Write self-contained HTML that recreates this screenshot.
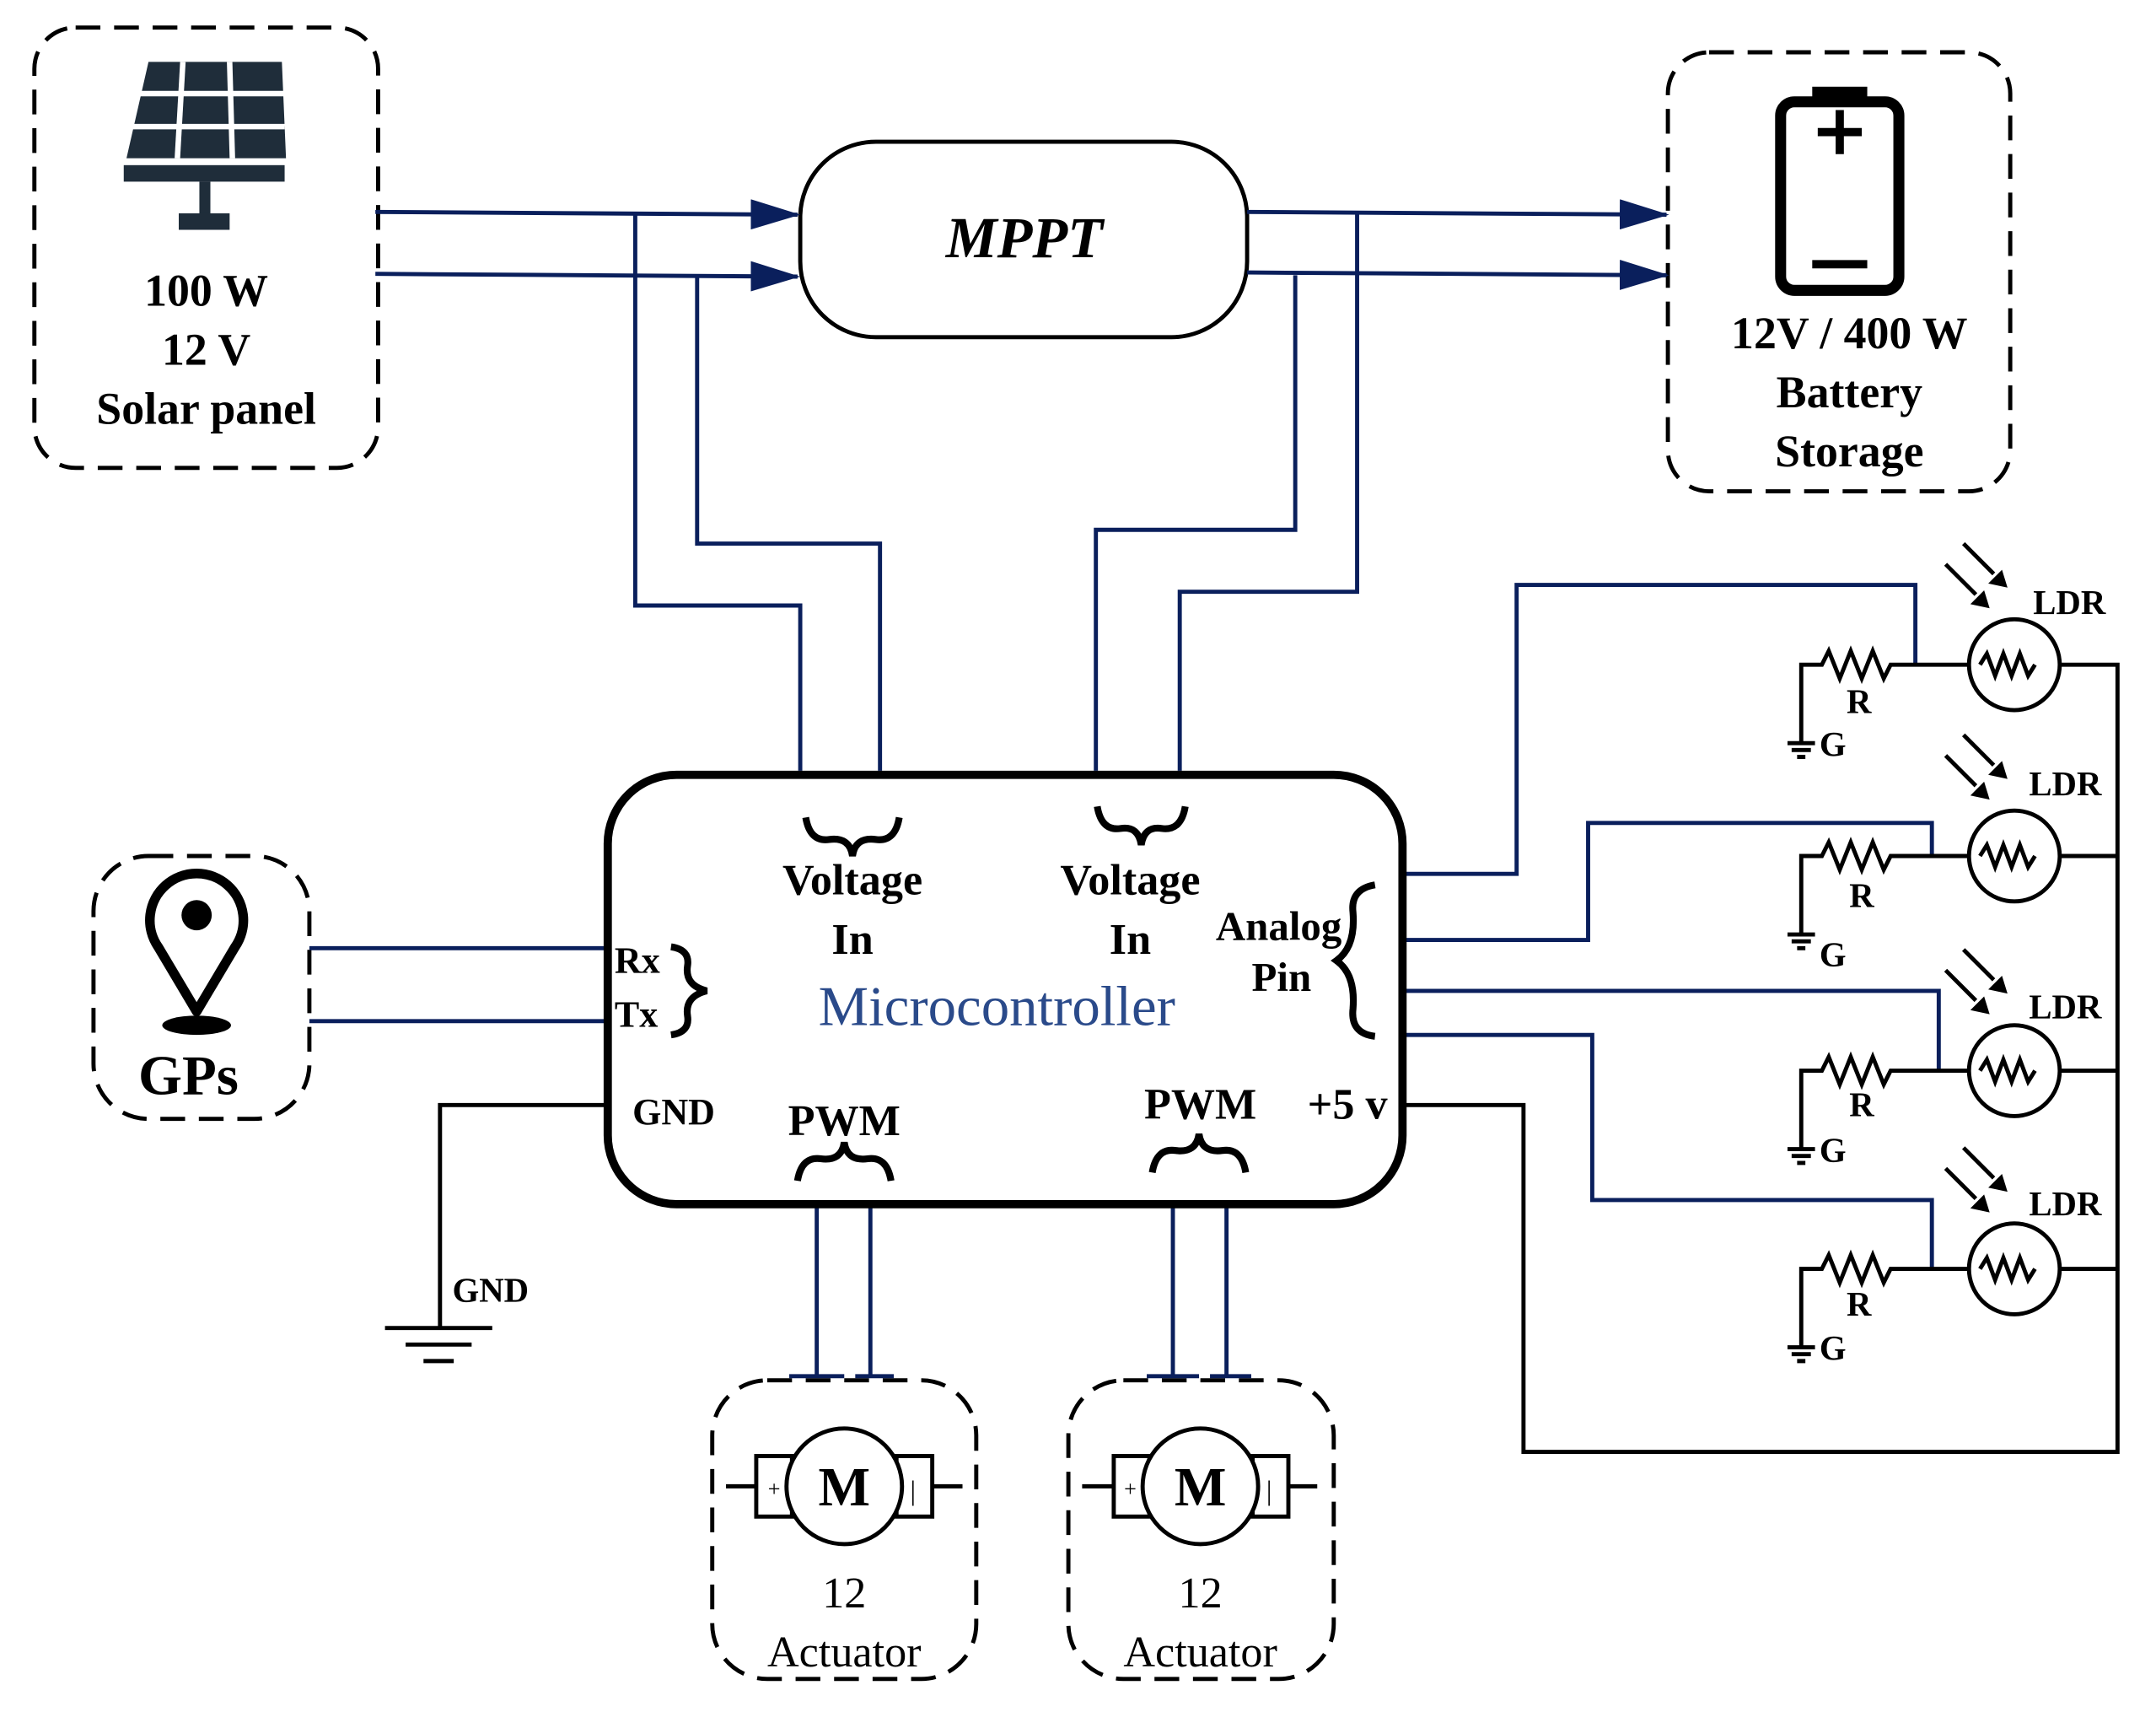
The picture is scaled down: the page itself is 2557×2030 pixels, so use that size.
<!DOCTYPE html>
<html><head><meta charset="utf-8"><style>html,body{margin:0;padding:0;background:#fff}svg{display:block}</style></head><body>
<svg width="2557" height="2030" viewBox="0 0 1568 1244" preserveAspectRatio="none" xmlns="http://www.w3.org/2000/svg" font-family="Liberation Serif, serif">
<defs>
<marker id="ar" markerWidth="36" markerHeight="22" refX="34" refY="11" orient="auto" markerUnits="userSpaceOnUse" viewBox="0 0 36 22"><path d="M0,0 L36,11 L0,22z" fill="#0a1f5c"/></marker>
</defs>
<g fill="none" stroke="#000" stroke-width="3" stroke-dasharray="18,10">
<rect x="25" y="20" width="250" height="320" rx="30"/>
<rect x="1213" y="38" width="249" height="319" rx="30"/>
<rect x="68" y="622" width="157" height="191" rx="40"/>
<rect x="518" y="1003" width="192" height="217" rx="40"/>
<rect x="777" y="1003" width="193" height="217" rx="40"/>
</g>
<g fill="#1f2d3a">
<polygon points="108,45 205,45 208,115 92,115"/>
<rect x="90" y="120" width="117" height="12"/>
<rect x="145" y="132" width="8" height="25"/>
<rect x="130" y="155" width="37" height="12"/>
</g>
<g stroke="#fff" stroke-width="4"><line x1="97" y1="68" x2="207" y2="68"/><line x1="94" y1="92" x2="207" y2="92"/><line x1="133" y1="45" x2="129" y2="115"/><line x1="167" y1="45" x2="169" y2="115"/></g>
<g font-weight="bold" font-size="33" text-anchor="middle" fill="#000">
<text x="150" y="222">100 W</text><text x="150" y="265">12 V</text><text x="150" y="308">Solar panel</text>
<text x="1345" y="253">12V / 400 W</text><text x="1345" y="296">Battery</text><text x="1345" y="339">Storage</text>
</g>
<rect x="1295" y="74" width="86" height="137" rx="10" fill="none" stroke="#000" stroke-width="8"/>
<rect x="1318" y="63" width="40" height="12" fill="#000"/>
<path d="M1338 80v32M1322 96h32M1318 192h40" stroke="#000" stroke-width="6"/>
<rect x="582" y="103" width="325" height="142" rx="55" fill="none" stroke="#000" stroke-width="3"/>
<text x="745" y="187" font-size="42" font-weight="bold" font-style="italic" text-anchor="middle">MPPT</text>
<g fill="none" stroke="#0a1f5c" stroke-width="3">
<path d="M273 154 L580 156" marker-end="url(#ar)"/>
<path d="M273 199 L580 201" marker-end="url(#ar)"/>
<path d="M907 154 L1212 156" marker-end="url(#ar)"/>
<path d="M907 198 L1212 200" marker-end="url(#ar)"/>
<path d="M462 155V440H582V560"/>
<path d="M507 200V395H640V560"/>
<path d="M987 155V430H858V560"/>
<path d="M942 200V385H797V560"/>
<path d="M225 689H442M225 742H442"/>
<path d="M1020 635H1103V425H1393V483"/>
<path d="M1020 683H1155V598H1405V622"/>
<path d="M1020 720H1410V778"/>
<path d="M1020 752H1158V872H1405V922"/>
<path d="M594 875V1000M633 875V1000M853 875V1000M892 875V1000"/>
</g>
<g stroke="#000" stroke-width="3" fill="none">
<path d="M574 1000H614M622 1000H650M834 1000H872M880 1000H910" stroke="#0a1f5c"/>
<path d="M442 803H320V965M280 965H358M295 977H343M308 989H330"/>
<path d="M1020 803H1108V1055H1540V483H1498"/>
<path d="M1498 622H1540M1498 778H1540M1498 922H1540"/>
</g>
<rect x="442" y="563" width="578" height="312" rx="50" fill="none" stroke="#000" stroke-width="6"/>
<g font-weight="bold" font-size="32" text-anchor="middle">
<text x="620" y="650">Voltage</text><text x="620" y="693">In</text>
<text x="822" y="650">Voltage</text><text x="822" y="693">In</text>
<text x="930" y="683" font-size="30">Analog</text><text x="932" y="720" font-size="30">Pin</text>
<text x="614" y="825">PWM</text><text x="873" y="813">PWM</text>
<text x="980" y="813">+5 v</text>
</g>
<g font-weight="bold" font-size="27">
<text x="447" y="707">Rx</text><text x="447" y="746">Tx</text><text x="460" y="817">GND</text><text x="329" y="946" font-size="25">GND</text>
</g>
<text x="725" y="745" font-size="41" fill="#2a4a8a" text-anchor="middle">Microcontroller</text>
<g fill="none" stroke="#000" stroke-width="5">
<path d="M586 594q3 18 17 16q15-2 17 12q2-14 17-12q14 2 17-16"/>
<path d="M798 586q3 18 17 16q13-2 15 12q2-14 15-12q14 2 17-16"/>
<path d="M580 858q3-18 17-16q15 2 17-12q2 14 17 12q14-2 17 16"/>
<path d="M838 852q3-18 17-16q15 2 17-12q2 14 17 12q14-2 17 16"/>
<path d="M1000 643q-18 3-16 20q2 25-12 35q14 10 12 35q-2 18 16 20"/>
<path d="M488 688q14 2 12 14q-2 14 14 18q-16 4-14 18q2 12-12 14"/>
</g>
<path d="M143 735 L115 688 A34 34 0 1 1 171 688 Z" fill="none" stroke="#000" stroke-width="7" stroke-linejoin="round"/>
<circle cx="143" cy="665" r="11" fill="#000"/>
<ellipse cx="143" cy="745" rx="25" ry="7" fill="#000"/>
<text x="137" y="795" font-size="41" font-weight="bold" text-anchor="middle">GPs</text>
<g stroke="#000" stroke-width="3" fill="#fff">
<path d="M528 1080H550M677 1080H700M787 1080H810M936 1080H958" fill="none"/>
<rect x="550" y="1058" width="26" height="44"/><rect x="652" y="1058" width="26" height="44"/>
<rect x="810" y="1058" width="26" height="44"/><rect x="911" y="1058" width="26" height="44"/>
<circle cx="614" cy="1080" r="42"/><circle cx="873" cy="1080" r="42"/>
</g>
<g text-anchor="middle">
<text x="614" y="1094" font-size="40" font-weight="bold">M</text><text x="873" y="1094" font-size="40" font-weight="bold">M</text>
<text x="563" y="1087" font-size="16">+</text><text x="822" y="1087" font-size="16">+</text>
<text x="664" y="1090" font-size="20">|</text><text x="923" y="1090" font-size="20">|</text>
<text x="614" y="1168" font-size="32">12</text><text x="614" y="1211" font-size="32">Actuator</text>
<text x="873" y="1168" font-size="32">12</text><text x="873" y="1211" font-size="32">Actuator</text>
</g>
<g id="ldr1" stroke="#000" stroke-width="3" fill="none">
<circle cx="1465" cy="483" r="33"/>
<path d="M1440 483l5-8 6 16 6-16 6 16 6-16 6 16 5-8"/>
<path d="M1310 540V483H1325l5-10 8 20 8-20 8 20 8-20 8 20 5-10H1432"/>
<path d="M1300 540h20M1303 545h14M1307 550h6"/>
<path d="M1428 395l22 22M1415 410l22 22"/>
</g>
<g fill="#000"><path d="M1460 427l-14-3 10-10z"/><path d="M1447 442l-14-3 10-10z"/></g>
<use href="#ldr1" y="139"/><use href="#ldr1" y="295"/><use href="#ldr1" y="439"/>
<g fill="#000"><path d="M1460 566l-14-3 10-10z"/><path d="M1447 581l-14-3 10-10z"/><path d="M1460 722l-14-3 10-10z"/><path d="M1447 737l-14-3 10-10z"/><path d="M1460 866l-14-3 10-10z"/><path d="M1447 881l-14-3 10-10z"/></g>
<g font-weight="bold" font-size="25" text-anchor="middle">
<text x="1505" y="446">LDR</text><text x="1502" y="578">LDR</text><text x="1502" y="740">LDR</text><text x="1502" y="883">LDR</text>
<text x="1352" y="518">R</text><text x="1354" y="659">R</text><text x="1354" y="811">R</text><text x="1352" y="956">R</text>
<text x="1333" y="549">G</text><text x="1333" y="702">G</text><text x="1333" y="844">G</text><text x="1333" y="988">G</text>
</g>
</svg>
</body></html>
